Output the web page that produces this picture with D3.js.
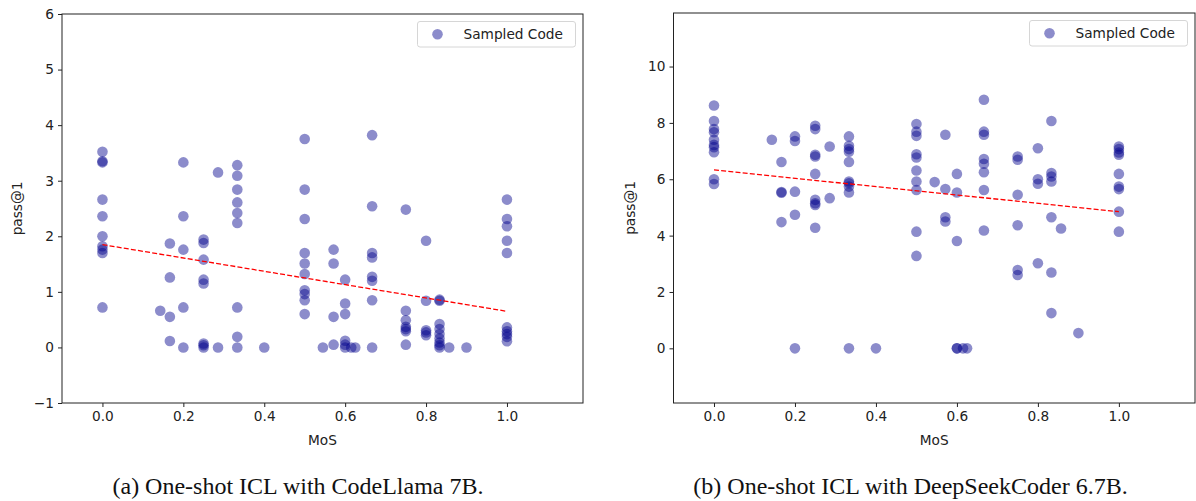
<!DOCTYPE html>
<html>
<head>
<meta charset="utf-8">
<script src="https://cdn.jsdelivr.net/npm/d3@7"></script>
<style>
  body { margin: 0; background: #fff; }
  svg text { font-family: "DejaVu Sans", sans-serif; fill: #222; }
  svg text.caption { font-family: "Liberation Serif", "Times New Roman", serif; fill: #111; }
</style>
</head>
<body>
<svg id="chart" width="1196" height="501"></svg>
<script>
// MoS levels shared by both panels
var mosLevels = [0, 1/7, 1/6, 0.2, 0.25, 2/7, 1/3, 0.4, 0.5, 0.545, 4/7, 0.6, 0.615, 0.625, 2/3, 0.75, 0.8, 5/6, 6/7, 0.9, 1.0];

// pass@1 values per MoS level, CodeLlama 7B
var codellamaPass = [
  [3.52, 3.35, 3.33, 2.66, 2.36, 2.0, 1.82, 1.76, 1.70, 0.72],
  [0.66],
  [1.87, 1.26, 0.55, 0.115],
  [3.33, 2.36, 1.76, 0.72, 0.0],
  [1.94, 1.88, 1.58, 1.22, 1.15, 0.07, 0.04, 0.0],
  [3.15, 0.0],
  [3.28, 3.09, 2.84, 2.61, 2.42, 2.24, 0.72, 0.19, 0.0],
  [0.0],
  [3.75, 2.84, 2.31, 1.70, 1.51, 1.32, 1.03, 0.96, 0.85, 0.60],
  [0.0],
  [1.76, 1.51, 0.55, 0.05],
  [1.22, 0.79, 0.60, 0.12, 0.05, 0.0],
  [0.0],
  [0.0],
  [3.82, 2.54, 1.70, 1.62, 1.27, 1.20, 0.85, 0.0],
  [2.48, 0.66, 0.49, 0.37, 0.33, 0.29, 0.05],
  [1.92, 0.84, 0.31, 0.27, 0.22],
  [0.86, 0.84, 0.42, 0.33, 0.24, 0.16, 0.09, 0.04, 0.0],
  [0.0],
  [0.0],
  [2.66, 2.31, 2.18, 1.92, 1.70, 0.36, 0.29, 0.24, 0.19, 0.11]
];

// pass@1 values per MoS level, DeepSeekCoder 6.7B
var deepseekPass = [
  [8.62, 8.07, 7.78, 7.67, 7.40, 7.22, 7.14, 6.96, 6.00, 5.83],
  [7.40],
  [6.61, 5.55, 5.52, 4.48],
  [7.52, 7.36, 5.56, 4.74, 0.0],
  [7.90, 7.78, 6.87, 6.81, 6.19, 5.27, 5.15, 5.09, 4.28],
  [7.16, 5.33],
  [7.52, 7.19, 7.07, 6.98, 6.61, 5.92, 5.86, 5.74, 5.53, 0.0],
  [0.0],
  [7.96, 7.69, 7.54, 6.89, 6.77, 6.31, 5.92, 5.62, 4.14, 3.28],
  [5.90],
  [7.58, 5.65, 4.65, 4.50],
  [6.19, 5.53, 3.81, 0.0, 0.0],
  [0.0],
  [0.0],
  [8.82, 7.69, 7.58, 6.72, 6.55, 6.25, 5.62, 4.18],
  [6.81, 6.69, 5.45, 4.37, 2.78, 2.60],
  [7.10, 6.00, 5.84, 3.02],
  [8.07, 6.22, 6.10, 5.92, 4.65, 2.69, 1.25],
  [4.25],
  [0.54],
  [7.16, 7.07, 6.95, 6.87, 6.19, 5.74, 5.65, 4.85, 4.14]
];

// trend line: pass@1 at MoS = 0 and MoS = 1
var codellamaFit = [1.85, 0.65];
var deepseekFit = [6.33, 4.85];

var xTicks = [0, 0.2, 0.4, 0.6, 0.8, 1.0];
var codellamaYTicks = [-1, 0, 1, 2, 3, 4, 5, 6];
var deepseekYTicks = [0, 2, 4, 6, 8, 10];

var legendLabel = "Sampled Code";
var captions = ["(a) One-shot ICL with CodeLlama 7B.", "(b) One-shot ICL with DeepSeekCoder 6.7B."];

var svg = d3.select("#chart");
svg.append("rect").attr("width", 1196).attr("height", 501).attr("fill", "#fff");

var dotColor = "#00008b";
var fontSize = "13.7px";

function drawPanel(p) {
  var bottom = 403;
  var x = d3.scaleLinear().domain([-0.1, 1.188]).range([p.left, p.right]);
  var y = d3.scaleLinear().domain(p.yDomain).range([bottom, p.top]);
  var g = svg.append("g");

  var pts = [];
  mosLevels.forEach(function(m, i) {
    p.pass[i].forEach(function(v) { pts.push([m, v]); });
  });

  g.selectAll("circle.pt")
      .data(pts)
    .enter().append("circle")
      .attr("class", "pt")
      .attr("cx", function(d) { return x(d[0]); })
      .attr("cy", function(d) { return y(d[1]); })
      .attr("r", 5.3)
      .attr("fill", dotColor)
      .attr("fill-opacity", 0.45);

  g.append("line")
      .attr("x1", x(0)).attr("y1", y(p.fit[0]))
      .attr("x2", x(1)).attr("y2", y(p.fit[1]))
      .attr("stroke", "red")
      .attr("stroke-width", 1.3)
      .attr("stroke-dasharray", "5,2.2");

  var xAxis = d3.axisBottom(x).tickValues(xTicks).tickFormat(d3.format(".1f"))
      .tickSize(4).tickPadding(4).tickSizeOuter(0);
  var yAxis = d3.axisLeft(y).tickValues(p.yTicks).tickFormat(d3.format("d"))
      .tickSize(4).tickPadding(4).tickSizeOuter(0);

  var gx = g.append("g").attr("transform", "translate(0," + bottom + ")").call(xAxis);
  var gy = g.append("g").attr("transform", "translate(" + p.left + ",0)").call(yAxis);
  [gx, gy].forEach(function(a) {
    a.select(".domain").remove();
    a.attr("font-family", null).attr("font-size", null);
    a.selectAll("text").style("font-size", fontSize).attr("fill", "#222");
    a.selectAll("line").attr("stroke", "#222");
  });
  // matplotlib uses a real minus sign
  gy.selectAll("text").text(function(d) { return d < 0 ? "\u2212" + Math.abs(d) : d; });

  g.append("rect")
      .attr("x", p.left).attr("y", p.top)
      .attr("width", p.right - p.left).attr("height", bottom - p.top)
      .attr("fill", "none").attr("stroke", "#222").attr("stroke-width", 1);

  g.append("text")
      .attr("x", (p.left + p.right) / 2).attr("y", 445)
      .attr("text-anchor", "middle").style("font-size", fontSize)
      .text("MoS");

  g.append("text")
      .attr("transform", "translate(" + p.ylabelX + "," + (p.top + bottom) / 2 + ") rotate(-90)")
      .attr("text-anchor", "middle").style("font-size", fontSize)
      .text("pass@1");

  // legend
  var lw = 158, lh = 25.5;
  var lx = p.right - 7.5 - lw, ly = p.top + 7.5;
  var lg = g.append("g").attr("transform", "translate(" + lx + "," + ly + ")");
  lg.append("rect")
      .attr("width", lw).attr("height", lh).attr("rx", 2.5)
      .attr("fill", "#fff").attr("fill-opacity", 0.8)
      .attr("stroke", "#d6d6d6").attr("stroke-width", 1);
  lg.append("circle")
      .attr("cx", 20).attr("cy", lh / 2).attr("r", 5.3)
      .attr("fill", dotColor).attr("fill-opacity", 0.45);
  lg.append("text")
      .attr("x", 46).attr("y", lh / 2 + 4.9)
      .style("font-size", fontSize)
      .text(legendLabel);

  svg.append("text")
      .attr("class", "caption")
      .attr("x", p.captionX).attr("y", 494)
      .attr("text-anchor", "middle").style("font-size", "24px")
      .text(p.caption);
}

drawPanel({
  left: 62, right: 583, top: 14,
  yDomain: [-1, 6], yTicks: codellamaYTicks,
  pass: codellamaPass, fit: codellamaFit,
  ylabelX: 22.2, captionX: 298, caption: captions[0]
});

drawPanel({
  left: 673.5, right: 1195, top: 13,
  yDomain: [-1.94, 11.9], yTicks: deepseekYTicks,
  pass: deepseekPass, fit: deepseekFit,
  ylabelX: 635, captionX: 910.5, caption: captions[1]
});
</script>
</body>
</html>
